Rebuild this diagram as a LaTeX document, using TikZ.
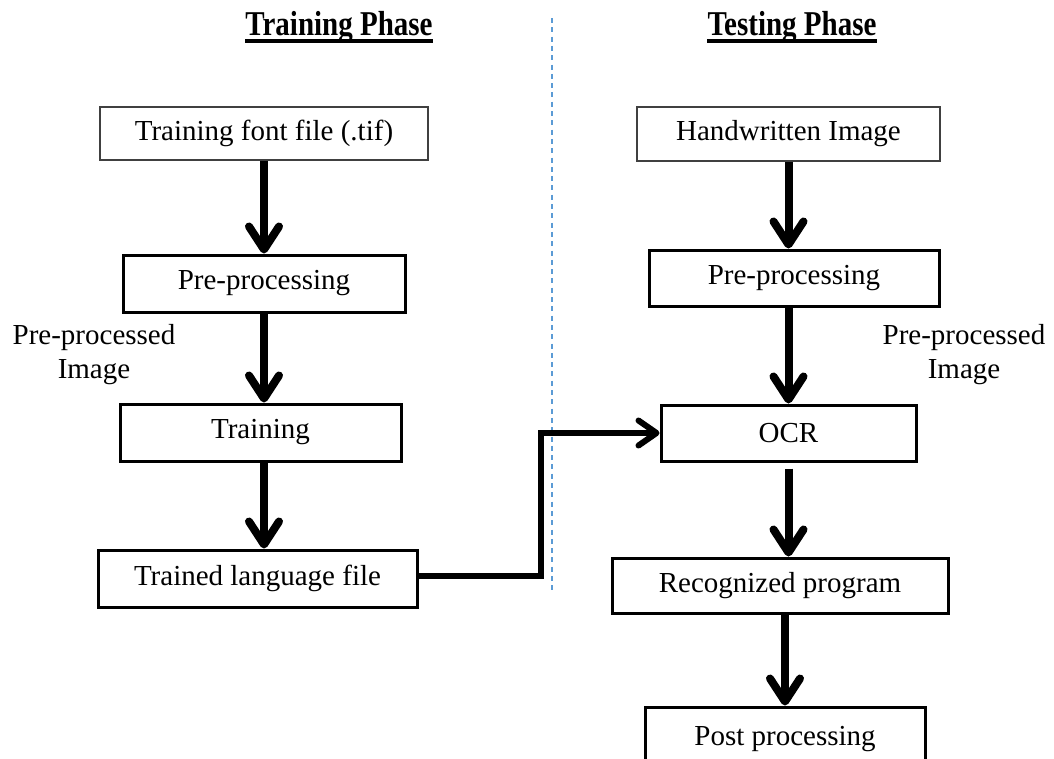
\documentclass[tikz,border=0pt]{standalone}
\usepackage{fontspec}
\setmainfont{Liberation Serif}
\usetikzlibrary{arrows.meta}
\definecolor{dashblue}{RGB}{91,155,213}
\definecolor{thingray}{RGB}{64,64,64}
\tikzset{
  box/.style={draw=black, line width=3pt, inner sep=0pt, font=\fontsize{29}{34}\selectfont},
  thinbox/.style={draw=thingray, line width=1.5pt, inner sep=0pt, font=\fontsize{29}{34}\selectfont},
  flow/.style={line width=8pt, -{Straight Barb[length=23pt,width=30pt,line cap=round,line join=round]}},
  link/.style={line width=6pt, line join=miter, -{Straight Barb[length=18pt,width=25pt,line cap=round,line join=round]}},
  ttl/.style={inner sep=0pt, font=\fontsize{29}{34}\selectfont\bfseries},
  lbl/.style={inner sep=0pt, align=center, font=\fontsize{29}{34}\selectfont},
}
\begin{document}
\begin{tikzpicture}[x=1pt,y=-1pt]
\useasboundingbox (0,0) rectangle (1054,758);
% titles
\node[ttl, anchor=base] (t1) at (339,35) {\scalebox{1}[1.2]{Training Phase}};
\node[ttl, anchor=base] (t2) at (792,35) {\scalebox{1}[1.2]{Testing Phase}};
\draw[line width=3.5pt] ([yshift=-6pt]t1.base west) -- ([yshift=-6pt]t1.base east);
\draw[line width=3.5pt] ([yshift=-6pt]t2.base west) -- ([yshift=-6pt]t2.base east);
% divider
\coordinate (d1) at (552,18);
\coordinate (d2) at (552,592);
\draw[dashblue, line width=1.8pt, dash pattern=on 5pt off 4.3pt] (d1) -- (d2);
% training side
\node[thinbox, minimum width=328pt, minimum height=53pt] (b1) at (264,133.5) {Training font file (.tif)};
\node[box, minimum width=282pt, minimum height=57pt] (b2) at (264,283.5) {Pre-processing};
\node[box, minimum width=281pt, minimum height=57pt] (b3) at (260.5,432.5) {Training};
\node[box, minimum width=319pt, minimum height=57pt] (b4) at (257.5,578.5) {Trained language file};
\node[lbl] (l1) at (94,355) {Pre-processed\\Image};
% testing side
\node[thinbox, minimum width=303pt, minimum height=54pt] (r1) at (788.5,134) {Handwritten Image};
\node[box, minimum width=290pt, minimum height=56pt] (r2) at (794,278) {Pre-processing};
\node[box, minimum width=255pt, minimum height=56pt] (ocr) at (788.5,433) {OCR};
\node[box, minimum width=336pt, minimum height=55pt] (rec) at (780,585.5) {Recognized program};
\node[box, minimum width=280pt, minimum height=64pt] (post) at (785,739) {Post processing};
\node[lbl] (l2) at (964,355) {Pre-processed\\Image};
% flow arrows
\draw[flow] (b1.south) -- (b1.south |- b2.north);
\draw[flow] (b2.south) -- (b2.south |- b3.north);
\draw[flow] (b3.south -| b2.south) -- (b2.south |- b4.north);
\draw[flow] (r1.south) -- (r1.south |- r2.north);
\draw[flow] (r2.south -| r1.south) -- (r1.south |- ocr.north);
\draw[flow] ([yshift=-6pt]ocr.south) -- (ocr.south |- rec.north);
\draw[flow] (rec.south -| post.north) -- (post.north);
% link
\draw[link] ([yshift=3pt]b4.east) -- ++(122,0) |- (ocr.west);
\end{tikzpicture}
\end{document}
